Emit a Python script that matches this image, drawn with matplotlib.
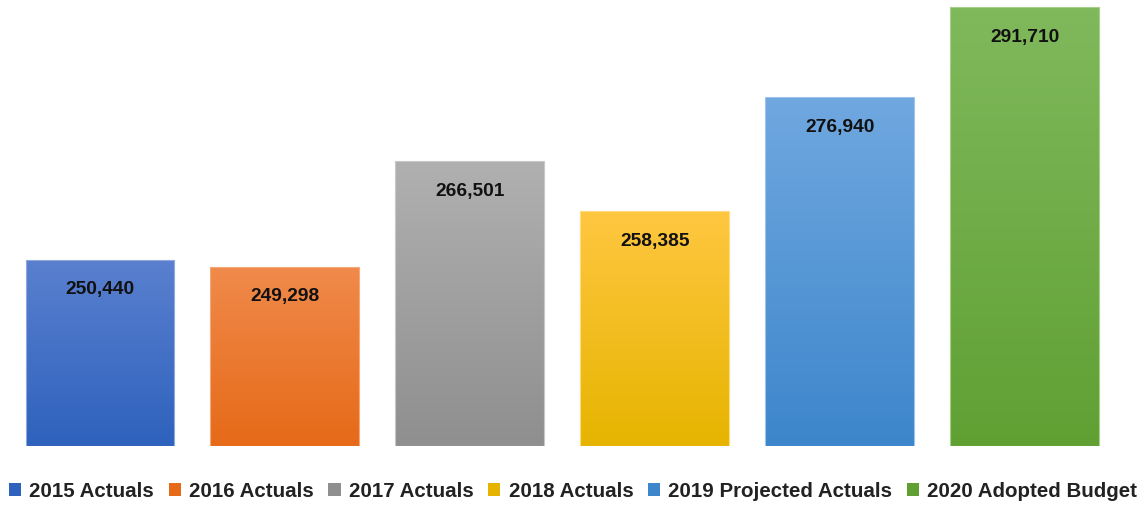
import numpy as np
import matplotlib
matplotlib.use("Agg")
import matplotlib.pyplot as plt
from matplotlib.colors import LinearSegmentedColormap
from matplotlib.patches import Patch

categories = ["2015 Actuals", "2016 Actuals", "2017 Actuals", "2018 Actuals",
              "2019 Projected Actuals", "2020 Adopted Budget"]
values = [250440, 249298, 266501, 258385, 276940, 291710]
top_colors = ["#5A80CF", "#F08A4B", "#B0B0B0", "#FFC741", "#70A8E0", "#80B95C"]
bottom_colors = ["#2E62BD", "#E66A18", "#8F8F8F", "#E6B400", "#3D86CB", "#60A033"]
edge_colors = ["#8FA9E0", "#F5A878", "#C8C8C8", "#FFDA80", "#9FC4EC", "#A6D08A"]

FONT = ["Liberation Sans", "DejaVu Sans"]
plt.rcParams["font.family"] = FONT

fig = plt.figure(figsize=(11.46, 5.06), dpi=100)
ax = fig.add_axes([7.5 / 1146, 1 - 447 / 506, (1117 - 7.5) / 1146, 447 / 506])

ymin, ymax = 220000, 293000
x = np.arange(len(values))
bars = ax.bar(x, values, width=0.805, bottom=0, color="none", edgecolor="none")

grad = np.linspace(1, 0, 256).reshape(-1, 1)
for bar, v, c_top, c_bot, c_edge in zip(bars, values, top_colors, bottom_colors, edge_colors):
    x0 = bar.get_x()
    w = bar.get_width()
    cmap = LinearSegmentedColormap.from_list("g", [c_bot, c_top])
    im = ax.imshow(grad, cmap=cmap, extent=[x0, x0 + w, ymin, v],
                   aspect="auto", origin="upper", zorder=2, vmin=0, vmax=1)
    im.set_clip_path(bar)
    ax.add_patch(plt.Rectangle((x0, ymin), w, v - ymin, fill=False,
                               edgecolor=c_edge, linewidth=0.8, zorder=3))
    ax.text(bar.get_x() + w / 2, v - 4800, f"{v:,}", ha="center", va="center",
            fontsize=13.8, fontweight="bold", color="#111111", zorder=4)

ax.set_xlim(-0.5, len(values) - 0.5)
ax.set_ylim(ymin, ymax)
ax.axis("off")

handles = [Patch(facecolor=c, edgecolor="none") for c in bottom_colors]
fig.legend(handles, categories, loc="center", bbox_to_anchor=(0.5, 1 - 492 / 506),
           ncol=6, frameon=False, handlelength=0.6, handleheight=0.6,
           handletextpad=0.4, columnspacing=0.7,
           prop={"family": FONT, "weight": "bold", "size": 14.8},
           labelcolor="#222222")

fig.savefig("out.png", dpi=100)
